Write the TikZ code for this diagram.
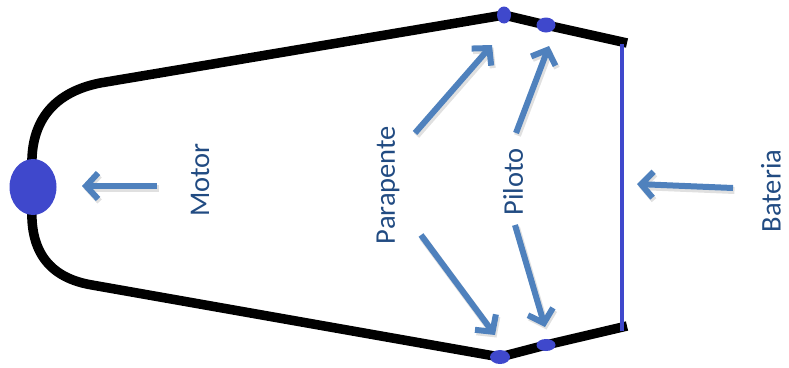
\documentclass[tikz,border=0pt]{standalone}
\usepackage{fontspec}
\setmainfont{Carlito}
\usetikzlibrary{arrows.meta,shapes.geometric}
\definecolor{arrowblue}{RGB}{79,129,189}
\definecolor{dotblue}{RGB}{63,72,204}
\definecolor{textblue}{RGB}{33,75,130}
\tikzset{
  frame/.style={line width=9.5pt, black, line join=round},
  dot/.style={ellipse, fill=dotblue, inner sep=0pt, draw=none},
  lbl/.style={rotate=90, text=textblue, font=\fontsize{28.5}{32}\selectfont, inner sep=0pt},
  pointer/.style={line width=6pt, arrowblue, -{Straight Barb[length=12pt,width=26pt,line width=6pt]},
    preaction={draw=black!12, line width=7pt, transform canvas={shift={(1.5pt,-2.5pt)}}}}
}
\begin{document}
\begin{tikzpicture}[x=1pt,y=-1pt]
\useasboundingbox (0,0) rectangle (789,367);
% frame
\draw[frame] (32,168) .. controls (30,120) and (55,92) .. (100,83) -- (504,15) -- (546,25) -- (627,43);
\draw[frame] (32,208) .. controls (30,252) and (50,278) .. (92,285) -- (500,357) -- (546,345) -- (627,326);
\draw[line width=4pt, dotblue] (622,44) -- (622,331);
% dots
\node[dot, minimum width=47pt, minimum height=56pt] (motor) at (33,187) {};
\node[dot, minimum width=14pt, minimum height=17pt] (pt1) at (504,15) {};
\node[dot, minimum width=19pt, minimum height=15pt] (pt2) at (546,25) {};
\node[dot, minimum width=20pt, minimum height=14pt] (pb1) at (500,357) {};
\node[dot, minimum width=19pt, minimum height=12pt] (pb2) at (546,345) {};
% labels
\node[lbl] (lmotor) at (200,180) {Motor};
\node[lbl] (lpara) at (388,185) {Parapente};
\node[lbl] (lpil) at (513,182) {Piloto};
\node[lbl] (lbat) at (771,191) {Bateria};
% arrow endpoints
\coordinate (mT) at (157,186); \coordinate (mH) at (82,186);
\coordinate (p1T) at (415,133); \coordinate (p1H) at (492,45);
\coordinate (q1T) at (516,133); \coordinate (q1H) at (549,46);
\coordinate (p2T) at (421,235); \coordinate (p2H) at (495,335);
\coordinate (q2T) at (515,225); \coordinate (q2H) at (545,327);
\coordinate (bT) at (733,188); \coordinate (bH) at (637,184);
\draw[pointer] (mT) -- (mH);
\draw[pointer] (p1T) -- (p1H);
\draw[pointer] (q1T) -- (q1H);
\draw[pointer] (p2T) -- (p2H);
\draw[pointer] (q2T) -- (q2H);
\draw[pointer] (bT) -- (bH);
\end{tikzpicture}
\end{document}
